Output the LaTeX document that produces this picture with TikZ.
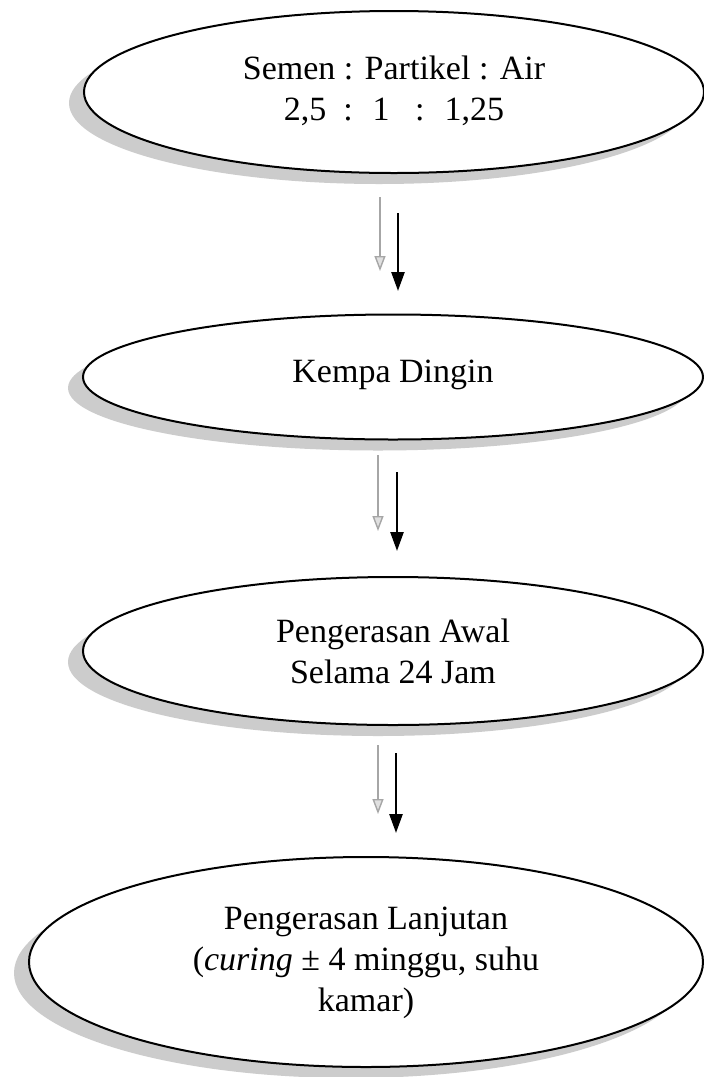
\documentclass[tikz,border=0pt]{standalone}
\usepackage{fontspec}
\setmainfont{Liberation Serif}
\usetikzlibrary{shapes.geometric,arrows.meta,shadows}
\begin{document}
\begin{tikzpicture}[x=1pt,y=-1pt,
  oval/.style={ellipse, draw=black, line width=2pt, fill=white, inner sep=0pt,
    align=center, font=\fontsize{34}{41}\selectfont,
    drop shadow={shadow xshift=-15pt, shadow yshift=-11pt, fill=black!20, opacity=1}},
  mainarrow/.style={line width=2.6pt, -{Triangle[width=13pt,length=19pt]}},
  ghostarrow/.style={line width=1.4pt, draw=black!35, -{Triangle[width=11pt,length=15pt,fill=black!12]}}
]
\useasboundingbox[fill=white] (0,0) rectangle (704,1077);

\node[oval, minimum width=620pt, minimum height=162pt] (e1) at (394,92)
  {\raisebox{5pt}{\begin{tabular}{@{}c@{}}Semen : Partikel : Air\\2,5 \ : \ 1 \ \ : \ 1,25\end{tabular}}};
\node[oval, minimum width=620pt, minimum height=125pt] (e2) at (393,377)
  {\raisebox{12pt}{Kempa Dingin}};
\node[oval, minimum width=620pt, minimum height=148pt] (e3) at (393,651)
  {Pengerasan Awal\\Selama 24 Jam};
\node[oval, minimum width=674pt, minimum height=210pt] (e4) at (366,962)
  {\raisebox{3pt}{\begin{tabular}{@{}c@{}}Pengerasan Lanjutan\\(\textit{curing} ± 4 minggu, suhu\\kamar)\end{tabular}}};

% arrows between stages
\coordinate (g1s) at (380,197); \coordinate (g1e) at (380,271);
\coordinate (b1s) at (398,213); \coordinate (b1e) at (398,291);
\coordinate (g2s) at (378,455); \coordinate (g2e) at (378,531);
\coordinate (b2s) at (397,472); \coordinate (b2e) at (397,551);
\coordinate (g3s) at (378,745); \coordinate (g3e) at (378,814);
\coordinate (b3s) at (396,753); \coordinate (b3e) at (396,833);

\draw[ghostarrow] (g1s) -- (g1e);
\draw[mainarrow] (b1s) -- (b1e);
\draw[ghostarrow] (g2s) -- (g2e);
\draw[mainarrow] (b2s) -- (b2e);
\draw[ghostarrow] (g3s) -- (g3e);
\draw[mainarrow] (b3s) -- (b3e);
\end{tikzpicture}
\end{document}
